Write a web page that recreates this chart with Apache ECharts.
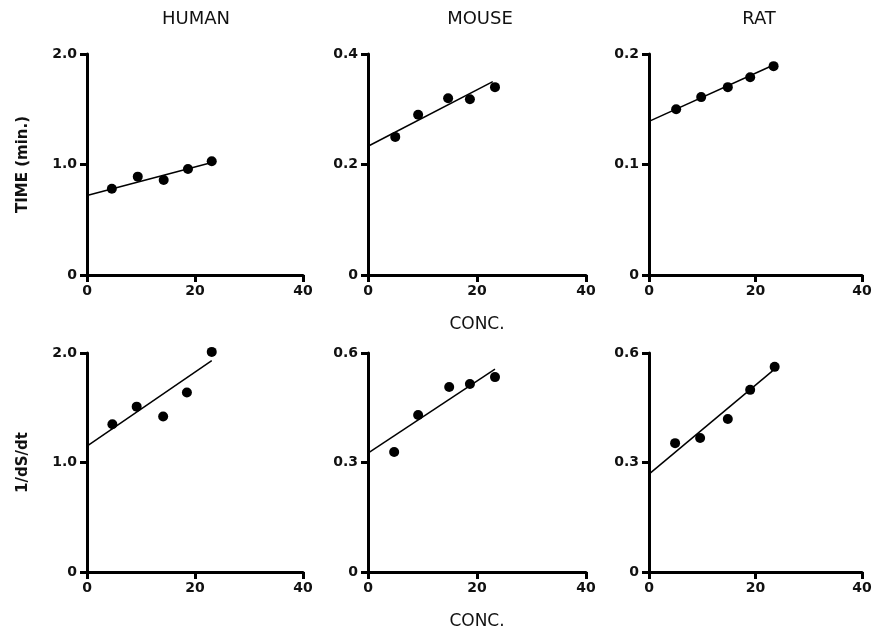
<!DOCTYPE html>
<html>
<head>
<meta charset="utf-8">
<script src="https://cdn.jsdelivr.net/npm/echarts@6/dist/echarts.min.js"></script>
<style>
	html, body { margin: 0; padding: 0; background: #fff; }
	#chart { width: 875px; height: 632px; }
</style>
</head>
<body>
<div id="chart"></div>
<script>
// column / row labels
var species = ['HUMAN', 'MOUSE', 'RAT'];
var rowNames = ['TIME (min.)', '1/dS/dt'];
var xName = 'CONC.';

// axis ranges, row 0 = TIME, row 1 = 1/dS/dt
var timeMax = [2.0, 0.4, 0.2];
var rateMax = [2.0, 0.6, 0.6];

// TIME (min.) vs conc
var humanTimeX = [4.6, 9.4, 14.2, 18.7, 23.1];
var humanTimeY = [0.78, 0.89, 0.86, 0.96, 1.03];
var mouseTimeX = [5.0, 9.2, 14.7, 18.7, 23.3];
var mouseTimeY = [0.25, 0.29, 0.32, 0.318, 0.34];
var ratTimeX = [5.1, 9.8, 14.8, 19.0, 23.4];
var ratTimeY = [0.150, 0.161, 0.170, 0.179, 0.189];

// 1/dS/dt vs conc
var humanRateX = [4.7, 9.2, 14.1, 18.5, 23.1];
var humanRateY = [1.35, 1.51, 1.42, 1.64, 2.01];
var mouseRateX = [4.8, 9.2, 14.9, 18.7, 23.3];
var mouseRateY = [0.329, 0.430, 0.507, 0.515, 0.534];
var ratRateX = [4.9, 9.6, 14.8, 19.0, 23.6];
var ratRateY = [0.353, 0.367, 0.419, 0.499, 0.562];

// fitted lines: [x0, y0, x1, y1]
var humanTimeFit = [0, 0.72, 23.3, 1.02];
var mouseTimeFit = [0, 0.233, 22.9, 0.35];
var ratTimeFit = [0, 0.139, 23.4, 0.190];
var humanRateFit = [0, 1.15, 23.1, 1.93];
var mouseRateFit = [0, 0.326, 23.3, 0.556];
var ratRateFit = [0, 0.268, 23.2, 0.551];

var panels = [
	{ x: humanTimeX, y: humanTimeY, fit: humanTimeFit, max: timeMax[0] },
	{ x: mouseTimeX, y: mouseTimeY, fit: mouseTimeFit, max: timeMax[1] },
	{ x: ratTimeX, y: ratTimeY, fit: ratTimeFit, max: timeMax[2] },
	{ x: humanRateX, y: humanRateY, fit: humanRateFit, max: rateMax[0] },
	{ x: mouseRateX, y: mouseRateY, fit: mouseRateFit, max: rateMax[1] },
	{ x: ratRateX, y: ratRateY, fit: ratRateFit, max: rateMax[2] }
];

var FONT = 'DejaVu Sans';
var colLeft = [87, 368, 649];
var colWidth = [216, 218, 213];
var rowTop = [54, 353];
var rowHeight = [221, 219];

function zip(xs, ys) {
	var out = [];
	for (var i = 0; i < xs.length; i++) out.push([xs[i], ys[i]]);
	return out;
}

var axisLineStyle = { color: '#000', width: 3 };
var tickStyle = { show: true, length: 7, lineStyle: { color: '#000', width: 3 } };

var grids = [], xAxes = [], yAxes = [], series = [], titles = [];

for (var i = 0; i < panels.length; i++) {
	var p = panels[i];
	var col = i % 3, row = Math.floor(i / 3);
	grids.push({ left: colLeft[col], top: rowTop[row], width: colWidth[col], height: rowHeight[row] });
	xAxes.push({
		type: 'value', gridIndex: i, min: 0, max: 40, interval: 20,
		name: col == 1 ? xName : '',
		nameLocation: 'middle', nameGap: 41,
		nameTextStyle: { fontFamily: FONT, fontSize: 17, color: '#111' },
		axisLine: { show: true, onZero: false, lineStyle: axisLineStyle },
		axisTick: tickStyle,
		splitLine: { show: false },
		axisLabel: { fontFamily: FONT, fontSize: 14, fontWeight: 'bold', color: '#111', margin: 9 }
	});
	yAxes.push({
		type: 'value', gridIndex: i, min: 0, max: p.max, interval: p.max / 2,
		name: col == 0 ? rowNames[row] : '',
		nameLocation: 'middle', nameGap: 56, nameRotate: 90,
		nameTextStyle: { fontFamily: FONT, fontSize: 15, fontWeight: 'bold', color: '#111' },
		axisLine: { show: true, onZero: false, lineStyle: axisLineStyle },
		axisTick: tickStyle,
		splitLine: { show: false },
		axisLabel: {
			fontFamily: FONT, fontSize: 14, fontWeight: 'bold', color: '#111', margin: 10,
			formatter: function (v) { return v === 0 ? '0' : v.toFixed(1); }
		}
	});
	series.push({
		type: 'scatter', xAxisIndex: i, yAxisIndex: i,
		symbol: 'circle', symbolSize: 10, clip: false,
		itemStyle: { color: '#000', opacity: 1 },
		data: zip(p.x, p.y)
	});
	series.push({
		type: 'line', xAxisIndex: i, yAxisIndex: i,
		symbol: 'none', clip: false,
		lineStyle: { color: '#000', width: 1.5 },
		data: [[p.fit[0], p.fit[1]], [p.fit[2], p.fit[3]]]
	});
}

var titleCenter = [191, 475, 754];
for (var c = 0; c < species.length; c++) {
	titles.push({
		text: species[c], left: titleCenter[c], top: 5, textAlign: 'center',
		textStyle: { fontFamily: FONT, fontSize: 18, fontWeight: 'normal', color: '#111' }
	});
}

var myChart = echarts.init(document.getElementById('chart'), null, { renderer: 'canvas' });
myChart.setOption({
	animation: false,
	backgroundColor: '#fff',
	title: titles,
	grid: grids,
	xAxis: xAxes,
	yAxis: yAxes,
	series: series
});
</script>
</body>
</html>
